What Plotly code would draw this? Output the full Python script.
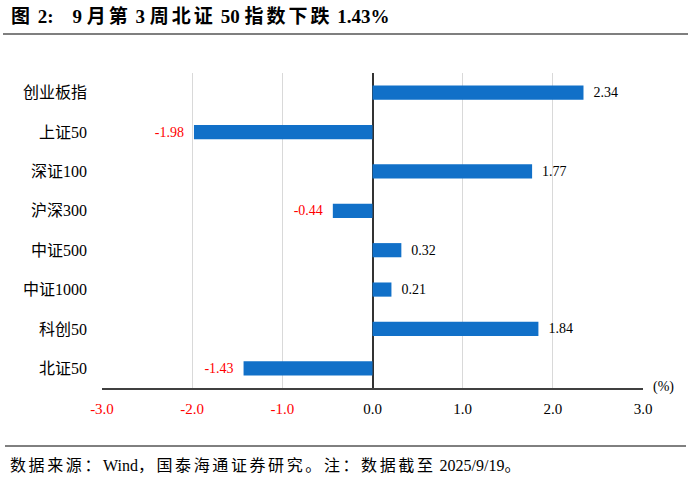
import re
import plotly.graph_objects as go

categories = ["创业板指", "上证50", "深证100", "沪深300", "中证500", "中证1000", "科创50", "北证50"]
values = [2.34, -1.98, 1.77, -0.44, 0.32, 0.21, 1.84, -1.43]
tick_vals = [-3.0, -2.0, -1.0, 0.0, 1.0, 2.0, 3.0]
tick_labels = ["-3.0", "-2.0", "-1.0", "0.0", "1.0", "2.0", "3.0"]

title_text = "图 2:    9 月第 3 周北证 50 指数下跌 1.43%"
source_text = "数据来源：Wind，国泰海通证券研究。注：数据截至 2025/9/19。"

W, H = 691, 479
L, R, T, B = 102, 48, 73, 91
FONT = "Liberation Serif, Times New Roman, Noto Sans CJK SC, serif"
NB = "\u00a0"

def px_x(p):
    return (p - L) / (W - L - R)

def px_y(p):
    return 1 - (p - T) / (H - T - B)

def spaced_cjk(s, sp):
    s = s.replace(" ", NB)
    return re.sub(r"([\u3000-\u303f\u4e00-\u9fff\uff00-\uffef]+)",
                  lambda m: f'<span style="letter-spacing:{sp}px">{m.group(1)}</span>', s)

label_colors = ["red" if v < 0 else "black" for v in values]
label_texts = [(f"{v:.2f}" + NB * 2) if v < 0 else (NB * 2 + f"{v:.2f}") for v in values]
tick_text = [
    f'<span style="color:red">{t}</span>' if v < 0 else t
    for v, t in zip(tick_vals, tick_labels)
]

fig = go.Figure()
fig.add_trace(go.Bar(
    x=values,
    y=categories,
    orientation="h",
    marker=dict(color="#1170C8", line=dict(width=0)),
    text=label_texts,
    textposition="outside",
    constraintext="none",
    textfont=dict(family=FONT, size=14, color=label_colors),
    cliponaxis=False,
    width=0.36,
    hoverinfo="skip",
))

fig.update_layout(
    width=W, height=H,
    margin=dict(l=L, r=R, t=T, b=B),
    paper_bgcolor="white",
    plot_bgcolor="white",
    showlegend=False,
    font=dict(family=FONT, size=14, color="black"),
    xaxis=dict(
        range=[-3, 3],
        tickvals=tick_vals,
        ticktext=tick_text,
        showgrid=True,
        gridcolor="#D9D9D9",
        gridwidth=1,
        zeroline=True,
        zerolinecolor="#333333",
        zerolinewidth=1.5,
        showline=True,
        linecolor="#404040",
        linewidth=2,
        ticks="",
        ticklabelstandoff=6,
        tickfont=dict(family=FONT, size=15),
        fixedrange=True,
    ),
    yaxis=dict(
        autorange="reversed",
        showgrid=False,
        zeroline=False,
        showline=False,
        ticks="",
        ticklabelstandoff=14,
        tickfont=dict(family=FONT, size=16),
        fixedrange=True,
    ),
    shapes=[
        dict(type="line", xref="paper", yref="paper",
             x0=px_x(3), x1=px_x(688), y0=px_y(34), y1=px_y(34),
             line=dict(color="black", width=1.2)),
        dict(type="line", xref="paper", yref="paper",
             x0=px_x(5), x1=px_x(686), y0=px_y(446), y1=px_y(446),
             line=dict(color="black", width=1)),
    ],
    annotations=[
        dict(text=f"<b>{spaced_cjk(title_text, 3)}</b>",
             xref="paper", yref="paper",
             x=px_x(9), y=px_y(17), xanchor="left", yanchor="middle",
             showarrow=False, font=dict(family=FONT, size=19, color="black")),
        dict(text=spaced_cjk(source_text, 2.6),
             xref="paper", yref="paper",
             x=px_x(8), y=px_y(465), xanchor="left", yanchor="middle",
             showarrow=False, font=dict(family=FONT, size=16, color="black")),
        dict(text="(%)", xref="paper", yref="paper",
             x=px_x(651), y=px_y(387), xanchor="left", yanchor="middle",
             showarrow=False, font=dict(family=FONT, size=14, color="black")),
    ],
)

fig.write_html("out.html", config={"displayModeBar": False},
               post_script="document.body.style.margin='0';document.body.style.padding='0';")
